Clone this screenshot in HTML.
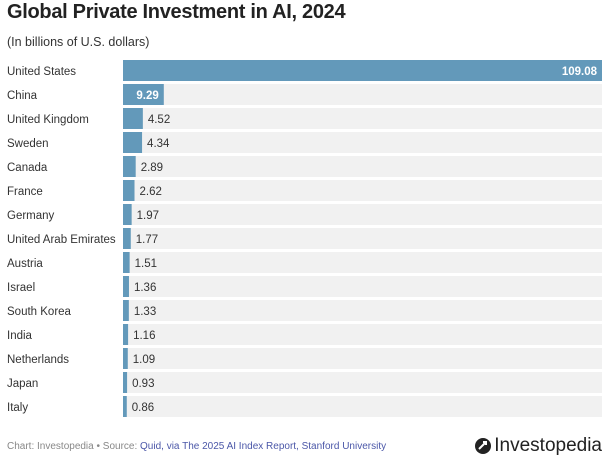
<!DOCTYPE html>
<html><head><meta charset="utf-8"><style>
body{margin:0;width:606px;height:457px;background:#fff;font-family:"Liberation Sans",sans-serif;position:relative;overflow:hidden}
#title{position:absolute;left:7px;top:1px;font-size:20px;font-weight:bold;color:#222;letter-spacing:-0.3px}
#sub{position:absolute;left:7px;top:35px;font-size:12.5px;color:#333}
#foot{position:absolute;left:7px;top:441px;font-size:10px;color:#888}
#foot span{color:#4b57a8}
#logo{position:absolute;right:4px;top:435px;font-size:19px;color:#222;display:flex;align-items:center;gap:3px}
</style></head><body>
<div id="title">Global Private Investment in AI, 2024</div>
<div id="sub">(In billions of U.S. dollars)</div>
<svg id="chart" width="606" height="430" style="position:absolute;left:0;top:0"></svg>
<div id="foot">Chart: Investopedia • Source: <span>Quid, via The 2025 AI Index Report, Stanford University</span></div>
<div id="logo"><svg width="16" height="16"><circle cx="8" cy="8" r="8" fill="#222"/><path d="M4 11 L11 4 M8 4 H11 V7" stroke="#fff" stroke-width="2" fill="none"/></svg>Investopedia</div>
<script>
const categories=["United States","China","United Kingdom","Sweden","Canada","France","Germany","United Arab Emirates","Austria","Israel","South Korea","India","Netherlands","Japan","Italy"];
const values=[109.08,9.29,4.52,4.34,2.89,2.62,1.97,1.77,1.51,1.36,1.33,1.16,1.09,0.93,0.86];
const valueLabels=["109.08","9.29","4.52","4.34","2.89","2.62","1.97","1.77","1.51","1.36","1.33","1.16","1.09","0.93","0.86"];
const svg=document.getElementById('chart');const NS="http://www.w3.org/2000/svg";
const x0=123,x1=602,top0=60,pitch=24,bh=21;
const maxV=Math.max(...values);
const xs=v=>v/maxV*(x1-x0);
const y=i=>top0+i*pitch;
function mk(t,a){const e=document.createElementNS(NS,t);for(const k in a)e.setAttribute(k,a[k]);svg.appendChild(e);return e;}
categories.forEach((c,i)=>{
 const bg=mk('rect',{x:x0,y:y(i),width:x1-x0,height:bh,fill:'#f1f1f1'});
 
 
 const w=xs(values[i]);
 const b=mk('rect',{x:x0,y:y(i),width:w,height:bh,fill:'#6399ba'});
 
 
 const l=mk('text',{x:7,y:y(i)+bh/2+4.5,'font-size':11.5,fill:'#333'});l.textContent=c;
 
 
 const inside=w>35;
 const v=mk('text',{x:inside?x0+w-5:x0+w+5,y:y(i)+bh/2+4.5,'font-size':11.5,fill:inside?'#fff':'#333','font-weight':inside?'bold':'normal','text-anchor':inside?'end':'start'});
 v.textContent=valueLabels[i];
 
 
});
</script>
</body></html>
